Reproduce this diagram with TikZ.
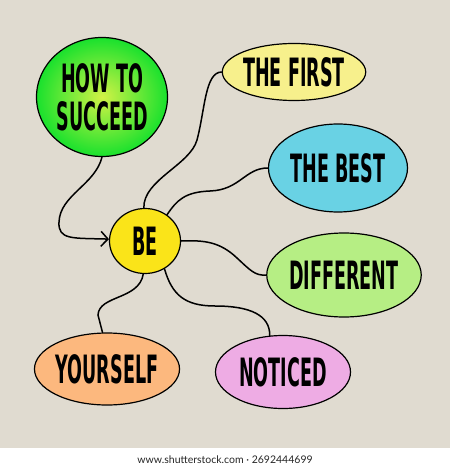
\documentclass[tikz,border=0pt]{standalone}
\usepackage{fontspec}
\setmainfont{Lato}
\newfontfamily\handfont[FakeStretch=0.45]{DejaVu Sans}
\usetikzlibrary{shapes.geometric}
\usetikzlibrary{arrows.meta}

\definecolor{paper}{RGB}{224,219,208}
\definecolor{howtoouter}{RGB}{25,225,45}
\definecolor{howtoinner}{RGB}{210,242,70}
\definecolor{firstfill}{RGB}{247,240,140}
\definecolor{bestfill}{RGB}{105,210,228}
\definecolor{befill}{RGB}{250,228,25}
\definecolor{differentfill}{RGB}{182,238,132}
\definecolor{yourselffill}{RGB}{252,184,126}
\definecolor{noticedfill}{RGB}{238,172,228}

\tikzset{
  every bubble/.style={ellipse, draw=black, line width=1.2pt, inner sep=0pt,
    align=center, font=\handfont\bfseries\fontsize{39}{38}\selectfont},
  bubble first/.style={fill=firstfill, minimum width=139pt, minimum height=57pt},
  bubble best/.style={fill=bestfill, minimum width=139pt, minimum height=88pt},
  bubble different/.style={fill=differentfill, minimum width=142pt, minimum height=84pt},
  bubble yourself/.style={fill=yourselffill, minimum width=142pt, minimum height=72pt},
  bubble noticed/.style={fill=noticedfill, minimum width=135pt, minimum height=73pt},
  branch/.style={line width=1.5pt, line cap=round},
}

\begin{document}
\begin{tikzpicture}[x=1pt, y=-1pt]
\useasboundingbox (0,0) rectangle (450,470);
\fill[paper] (0,0) rectangle (450,448);
\fill[white] (0,448) rectangle (450,470);

% central topic
\node [every bubble, fill=befill, minimum width=71pt, minimum height=65pt] (be) at (145,241) {BE};
\node [every bubble, shading=radial, inner color=howtoinner, outer color=howtoouter,
       minimum width=131pt, minimum height=119pt] (howto) at (102,97) {HOW TO\\SUCCEED};

% the branches
\foreach \n/\x/\y/\t in {first/294/72/THE FIRST, best/338/168/THE BEST,
    different/344/275/DIFFERENT, yourself/107/369/YOURSELF, noticed/283/372/NOTICED}
  \node [every bubble/.try, bubble \n/.try] (\n) at (\x,\y) {\t};

\draw [branch, -{Straight Barb[length=7pt, width=15pt]}] (howto.south)
  .. controls (95,185) and (60,195) .. (59,222)
  .. controls (58,240) and (72,238) .. (be.177);
\draw [branch] (be.92) .. controls (143,180) and (190,165) .. (197,140)
  .. controls (205,110) and (205,72) .. (first.west);
\draw [branch] (be.50) .. controls (177,200) and (185,192) .. (210,191)
  .. controls (240,190) and (245,168) .. (best.west);
\draw [branch] (be.east) .. controls (205,240) and (220,242) .. (237,258)
  .. controls (250,270) and (255,276) .. (different.west);
\draw [branch] (be.-55) .. controls (172,295) and (185,306) .. (215,306)
  .. controls (250,306) and (270,315) .. (noticed.110);
\draw [branch] (be.-93) .. controls (139,300) and (99,295) .. (98,315)
  -- (yourself.97);

\node [text=black!85, font=\fontsize{10.5}{12}\selectfont] (credit) at (225,459.5)
  {www.shutterstock.com · 2692444699};
\end{tikzpicture}
\end{document}
